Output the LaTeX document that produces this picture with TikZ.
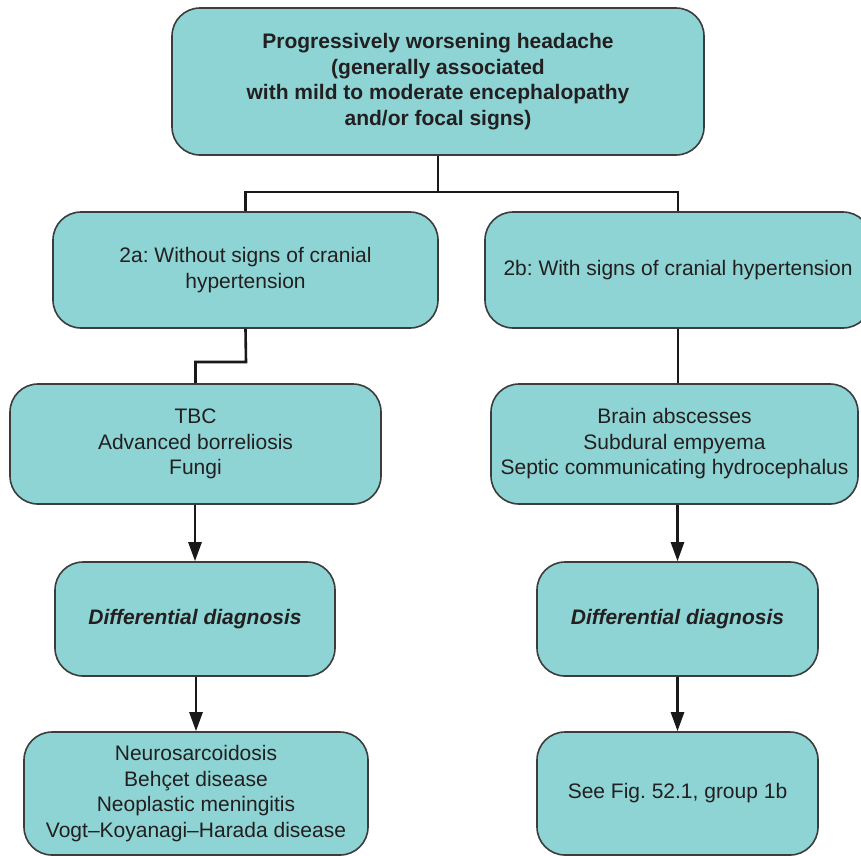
\documentclass[tikz,border=0pt]{standalone}
\usepackage{fontspec}
\setmainfont{Liberation Sans}
\usetikzlibrary{arrows.meta}
\definecolor{boxfill}{RGB}{142,212,212}
\definecolor{boxline}{RGB}{60,60,60}
\definecolor{txt}{RGB}{35,31,32}
\frenchspacing
\begin{document}
\begin{tikzpicture}[x=1pt,y=-1pt,
  box/.style={draw=boxline, line width=1.6pt, fill=boxfill, rounded corners=28pt,
    align=center, text=txt, inner sep=0pt,
    font=\fontsize{21}{25.5}\selectfont},
  conn/.style={line width=2.6pt, draw=black!90},
  arr/.style={conn, -{Triangle[length=19pt,width=13pt]}}]
\clip (0,0) rectangle (861,855);
\fill[white] (0,0) rectangle (861,855);

\node[box, minimum width=532pt, minimum height=147pt, font=\fontsize{21}{25.5}\selectfont\bfseries] (top) at (438,81.5)
  {Progressively worsening headache\\(generally associated\\with mild to moderate encephalopathy\\and/or focal signs)};
\node[box, minimum width=385pt, minimum height=116pt] (a2) at (245.5,270)
  {2a: Without signs of cranial\\hypertension};
\node[box, minimum width=386pt, minimum height=116pt] (b2) at (678,270)
  {2b: With signs of cranial hypertension};
\node[box, minimum width=371pt, minimum height=120pt] (tbc) at (195.5,444)
  {TBC\\Advanced borreliosis\\Fungi};
\node[box, minimum width=367pt, minimum height=120pt] (brain) at (674.5,444)
  {Brain abscesses\\Subdural empyema\\Septic communicating hydrocephalus};
\node[box, minimum width=280pt, minimum height=114pt, font=\fontsize{21}{25.5}\selectfont\bfseries\itshape] (ddl) at (195,619)
  {Differential diagnosis};
\node[box, minimum width=281pt, minimum height=114pt, font=\fontsize{21}{25.5}\selectfont\bfseries\itshape] (ddr) at (677.5,619)
  {Differential diagnosis};
\node[box, minimum width=344pt, minimum height=123pt] (bl) at (196,793.5)
  {Neurosarcoidosis\\Behçet disease\\Neoplastic meningitis\\Vogt–Koyanagi–Harada disease};
\node[box, minimum width=281pt, minimum height=123pt] (br) at (677.5,793.5)
  {See Fig. 52.1, group 1b};

\coordinate (split) at (438,192);
\draw[conn] (top.south) -- (split);
\draw[conn] (split) -| (a2.north);
\draw[conn] (split) -| (b2.north);
\coordinate (jog) at (246,362);
\draw[conn] (a2.south) -- (jog) -| (tbc.north);
\draw[conn] (b2.south) -- (b2.south |- brain.north);
\draw[arr] (tbc.south -| ddl.north) -- (ddl.north);
\draw[arr] (brain.south -| ddr.north) -- (ddr.north);
\draw[arr] (ddl.south -| bl.north) -- (bl.north);
\draw[arr] (ddr.south) -- (br.north);
\end{tikzpicture}
\end{document}
